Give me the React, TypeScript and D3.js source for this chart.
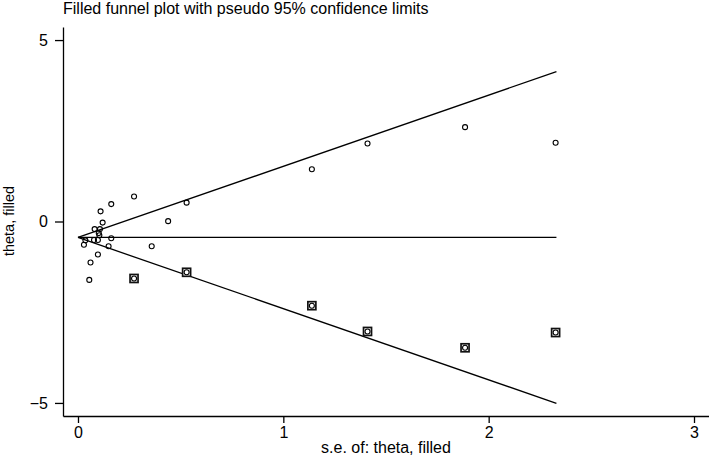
import React, { useEffect, useRef } from "react";
import { select, scaleLinear, axisLeft, axisBottom, line, format } from "d3";

// observed studies (se, theta)
const obsSe = [
  0.273, 0.162, 0.11, 0.12, 0.439, 0.081, 0.107, 0.101, 0.104, 0.078, 0.097, 0.036,
  0.029, 0.162, 0.149, 0.359, 0.097, 0.061, 0.055, 0.529, 1.139, 1.41, 1.885, 2.326,
];
const obsTheta = [
  0.69, 0.48, 0.28, -0.03, 0.01, -0.21, -0.21, -0.32, -0.38, -0.51, -0.51, -0.52,
  -0.64, -0.46, -0.68, -0.68, -0.91, -1.13, -1.61, 0.52, 1.44, 2.15, 2.6, 2.17,
];

// imputed ("filled") studies
const filledSe = [0.273, 0.529, 1.139, 1.41, 1.885, 2.326];
const filledTheta = [-1.57, -1.4, -2.32, -3.03, -3.48, -3.06];

// funnel lines
const funnelSe = [0, 2.33];
const pooledTheta = [-0.44, -0.44];
const upperLimit = [-0.44, 4.13];
const lowerLimit = [-0.44, -5.01];

const xTicks = [0, 1, 2, 3];
const yTicks = [-5, 0, 5];

const title = "Filled funnel plot with pseudo 95% confidence limits";
const xAxisLabel = "s.e. of: theta, filled";
const yAxisLabel = "theta, filled";

export default function App() {
  const ref = useRef<SVGSVGElement>(null);

  useEffect(() => {
    const width = 709;
    const height = 458;
    const font = "'Liberation Sans', Arial, Helvetica, sans-serif";

    const svg = select(ref.current);
    svg.selectAll("*").remove();
    svg.append("rect").attr("width", width).attr("height", height).attr("fill", "white");

    const xScale = scaleLinear().domain([-0.073, 3.073]).range([63, 709]);
    const yScale = scaleLinear().domain([-5.36, 5.36]).range([416, 27]);

    const xAxis = axisBottom(xScale)
      .tickValues(xTicks)
      .tickFormat(format("d"))
      .tickSize(7)
      .tickSizeOuter(0)
      .tickPadding(4);
    const yAxis = axisLeft(yScale)
      .tickValues(yTicks)
      .tickFormat(format("d"))
      .tickSize(8)
      .tickSizeOuter(0)
      .tickPadding(7);

    const xAxisG = svg.append("g").attr("transform", `translate(0,416)`).call(xAxis);
    const yAxisG = svg.append("g").attr("transform", `translate(63,0)`).call(yAxis);

    [xAxisG, yAxisG].forEach((g) => {
      g.selectAll("path, line").attr("stroke", "#000").attr("stroke-width", 1.3);
      g.selectAll("text").attr("font-family", font).attr("font-size", 16).attr("fill", "#000");
    });

    svg
      .append("text")
      .attr("x", 386)
      .attr("y", 453)
      .attr("text-anchor", "middle")
      .attr("font-family", font)
      .attr("font-size", 16)
      .text(xAxisLabel);

    svg
      .append("text")
      .attr("transform", `translate(14,221) rotate(-90)`)
      .attr("text-anchor", "middle")
      .attr("font-family", font)
      .attr("font-size", 14.5)
      .text(yAxisLabel);

    svg
      .append("text")
      .attr("x", 63)
      .attr("y", 14)
      .attr("font-family", font)
      .attr("font-size", 16)
      .text(title);

    const lineGen = line<number>()
      .x((d, i) => xScale(funnelSe[i]))
      .y((d) => yScale(d));

    [pooledTheta, upperLimit, lowerLimit].forEach((vals) => {
      svg
        .append("path")
        .attr("d", lineGen(vals))
        .attr("fill", "none")
        .attr("stroke", "#000")
        .attr("stroke-width", 1.3);
    });

    // filled studies: squares
    svg
      .selectAll("rect.filled")
      .data(filledSe)
      .enter()
      .append("rect")
      .attr("class", "filled")
      .attr("x", (d) => xScale(d) - 4)
      .attr("y", (d, i) => yScale(filledTheta[i]) - 4)
      .attr("width", 8)
      .attr("height", 8)
      .attr("fill", "white")
      .attr("stroke", "#111")
      .attr("stroke-width", 1.7);

    const allSe = obsSe.concat(filledSe);
    const allTheta = obsTheta.concat(filledTheta);

    svg
      .selectAll("circle")
      .data(allSe)
      .enter()
      .append("circle")
      .attr("cx", (d) => xScale(d))
      .attr("cy", (d, i) => yScale(allTheta[i]))
      .attr("r", 2.5)
      .attr("fill", "none")
      .attr("stroke", "#000")
      .attr("stroke-width", 1.1);
  }, []);

  return (
    <svg
      ref={ref}
      width={709}
      height={458}
      style={{ position: "absolute", left: 0, top: 0, display: "block" }}
    />
  );
}
